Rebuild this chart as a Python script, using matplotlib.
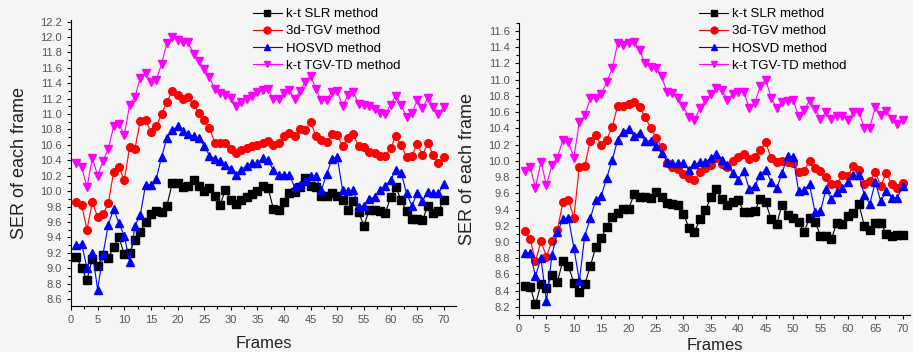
import matplotlib.pyplot as plt
from matplotlib.ticker import MultipleLocator

plt.rcParams['font.family'] = ['Liberation Sans', 'DejaVu Sans']

frames = list(range(1, 71))

# left panel
slr_a = [9.15, 9.0, 8.85, 9.12, 9.03, 9.17, 9.13, 9.28, 9.4, 9.18,
         9.2, 9.37, 9.47, 9.6, 9.7, 9.74, 9.73, 9.81, 10.1, 10.11,
         10.05, 10.07, 10.14, 10.07, 10.0, 10.04, 9.93, 9.82, 10.02, 9.88,
         9.83, 9.89, 9.92, 9.96, 10.0, 10.06, 10.04, 9.77, 9.76, 9.86,
         9.98, 9.99, 10.05, 10.17, 10.06, 10.05, 9.93, 9.93, 9.97, 9.94,
         9.89, 9.76, 9.87, 9.73, 9.55, 9.76, 9.76, 9.74, 9.71, 9.92,
         10.05, 9.88, 9.74, 9.64, 9.64, 9.62, 9.81, 9.71, 9.74, 9.89]
tgv3d_a = [9.86, 9.82, 9.5, 9.86, 9.66, 9.7, 9.84, 10.25, 10.31, 10.14,
           10.57, 10.55, 10.91, 10.92, 10.77, 10.84, 11.0, 11.16, 11.3, 11.25,
           11.19, 11.22, 11.13, 11.02, 10.92, 10.82, 10.63, 10.63, 10.63, 10.54,
           10.5, 10.53, 10.56, 10.58, 10.6, 10.63, 10.65, 10.6, 10.63, 10.71,
           10.76, 10.71, 10.81, 10.79, 10.9, 10.71, 10.66, 10.64, 10.74, 10.73,
           10.58, 10.69, 10.74, 10.58, 10.57, 10.51, 10.49, 10.46, 10.45, 10.56,
           10.71, 10.6, 10.44, 10.46, 10.61, 10.47, 10.62, 10.47, 10.36, 10.44]
hosvd_a = [9.3, 9.31, 9.0, 9.2, 8.72, 9.18, 9.56, 9.77, 9.58, 9.42,
           9.08, 9.55, 9.69, 10.08, 10.08, 10.16, 10.44, 10.69, 10.79, 10.84,
           10.78, 10.74, 10.71, 10.69, 10.59, 10.46, 10.42, 10.39, 10.34, 10.29,
           10.21, 10.28, 10.33, 10.36, 10.36, 10.43, 10.4, 10.27, 10.21, 10.21,
           10.21, 10.05, 10.08, 10.13, 10.19, 10.19, 10.01, 10.22, 10.42, 10.44,
           10.01, 10.0, 10.01, 9.79, 9.81, 9.9, 9.92, 10.02, 10.07, 10.14,
           10.28, 10.24, 9.97, 9.81, 9.97, 9.87, 9.99, 9.97, 9.97, 10.09]
tgvtd_a = [10.36, 10.31, 10.05, 10.43, 10.2, 10.39, 10.55, 10.84, 10.87, 10.73,
           11.12, 11.22, 11.47, 11.53, 11.41, 11.44, 11.65, 11.92, 12.0, 11.96,
           11.94, 11.93, 11.78, 11.69, 11.58, 11.48, 11.32, 11.27, 11.25, 11.21,
           11.11, 11.16, 11.19, 11.24, 11.28, 11.31, 11.33, 11.19, 11.2, 11.27,
           11.31, 11.19, 11.3, 11.42, 11.5, 11.32, 11.18, 11.18, 11.29, 11.3,
           11.1, 11.25, 11.29, 11.13, 11.12, 11.1, 11.06, 11.02, 11.0, 11.12,
           11.24, 11.12, 10.96, 11.01, 11.18, 11.08, 11.21, 11.09, 11.0, 11.09]

# right panel
slr_b = [8.46, 8.45, 8.23, 8.48, 8.43, 8.59, 8.51, 8.77, 8.7, 8.5,
         8.39, 8.48, 8.7, 8.94, 9.05, 9.19, 9.31, 9.36, 9.41, 9.41,
         9.59, 9.56, 9.56, 9.54, 9.61, 9.56, 9.48, 9.47, 9.45, 9.35,
         9.17, 9.12, 9.28, 9.39, 9.55, 9.65, 9.53, 9.45, 9.49, 9.52,
         9.37, 9.37, 9.38, 9.53, 9.49, 9.28, 9.22, 9.46, 9.33, 9.29,
         9.25, 9.12, 9.3, 9.25, 9.08, 9.08, 9.04, 9.24, 9.22, 9.32,
         9.36, 9.47, 9.2, 9.15, 9.23, 9.24, 9.1, 9.08, 9.09, 9.09]
tgv3d_b = [9.14, 9.04, 8.76, 9.01, 8.82, 9.01, 9.15, 9.49, 9.52, 9.3,
           9.93, 9.94, 10.25, 10.32, 10.19, 10.26, 10.42, 10.68, 10.67, 10.7,
           10.73, 10.66, 10.54, 10.41, 10.28, 10.17, 9.97, 9.93, 9.9, 9.84,
           9.79, 9.76, 9.86, 9.91, 9.95, 10.03, 9.96, 9.93, 10.0, 10.05,
           10.09, 10.02, 10.05, 10.13, 10.23, 10.03, 9.98, 10.0, 9.99, 9.97,
           9.86, 9.88, 10.0, 9.91, 9.88, 9.8, 9.71, 9.72, 9.82, 9.81,
           9.94, 9.89, 9.72, 9.75, 9.86, 9.69, 9.85, 9.71, 9.67, 9.73]
hosvd_b = [8.86, 8.87, 8.58, 8.8, 8.27, 8.84, 9.12, 9.28, 9.3, 8.93,
           8.52, 9.08, 9.29, 9.52, 9.57, 9.79, 10.01, 10.26, 10.36, 10.39,
           10.31, 10.34, 10.24, 10.25, 10.18, 10.1, 9.99, 9.97, 9.97, 9.97,
           9.89, 9.96, 9.98, 9.99, 10.03, 10.08, 10.01, 9.95, 9.85, 9.77,
           9.88, 9.65, 9.69, 9.83, 9.89, 9.74, 9.66, 9.85, 10.06, 10.05,
           9.63, 9.64, 9.71, 9.37, 9.38, 9.65, 9.53, 9.62, 9.67, 9.74,
           9.82, 9.83, 9.58, 9.47, 9.74, 9.5, 9.63, 9.54, 9.54, 9.69]
tgvtd_b = [9.87, 9.93, 9.67, 9.99, 9.7, 9.95, 10.04, 10.26, 10.23, 10.04,
           10.48, 10.56, 10.77, 10.78, 10.82, 10.97, 11.14, 11.45, 11.43, 11.45,
           11.47, 11.36, 11.2, 11.16, 11.15, 11.04, 10.85, 10.83, 10.77, 10.67,
           10.54, 10.5, 10.65, 10.75, 10.82, 10.9, 10.87, 10.75, 10.82, 10.85,
           10.85, 10.65, 10.71, 10.92, 11.0, 10.78, 10.65, 10.73, 10.74, 10.75,
           10.55, 10.63, 10.74, 10.64, 10.52, 10.6, 10.52, 10.55, 10.55, 10.5,
           10.6, 10.6, 10.41, 10.41, 10.66, 10.56, 10.62, 10.52, 10.45, 10.5]

labels = ['k-t SLR method', '3d-TGV method', 'HOSVD method', 'k-t TGV-TD method']
colors = ['black', 'red', 'blue', 'magenta']
markers = ['s', 'o', '^', 'v']

bg = '#f5f5f5'
fig = plt.figure(figsize=(9.13, 3.52), dpi=100, facecolor=bg)

ax1 = fig.add_axes([0.0778, 0.131, 0.4217, 0.812], facecolor=bg)
ax2 = fig.add_axes([0.5685, 0.105, 0.428, 0.83], facecolor=bg)


def draw(ax, series, xmax, ylim, legend_x, xpad):
    for vals, c, m, lab in zip(series, colors, markers, labels):
        ax.plot(frames, vals, color=c, marker=m, markersize=5.5, linewidth=0.8,
                label=lab)
    ax.set_xlim(0, xmax)
    ax.set_ylim(*ylim)
    ax.xaxis.set_major_locator(MultipleLocator(5))
    ax.xaxis.set_minor_locator(MultipleLocator(2.5))
    ax.yaxis.set_major_locator(MultipleLocator(0.2))
    ax.yaxis.set_minor_locator(MultipleLocator(0.1))
    ax.yaxis.set_major_formatter(plt.FormatStrFormatter('%.1f'))
    for s in ['top', 'right']:
        ax.spines[s].set_visible(False)
    ax.tick_params(which='both', direction='out', labelsize=8, labelcolor='#555555',
                   width=0.8)
    ax.tick_params(which='major', length=3)
    ax.tick_params(which='minor', length=2)
    ax.set_xlabel('Frames', fontsize=12, labelpad=xpad, color='#222222')
    ax.set_ylabel('SER of each frame', fontsize=13, labelpad=9, color='#222222')
    ax.legend(loc='upper left', bbox_to_anchor=(legend_x, 1.0),
              bbox_transform=fig.transFigure, frameon=False, fontsize=9.5,
              handlelength=2.2, handletextpad=0.3, labelspacing=0.38,
              borderpad=0.1, markerscale=0.9)


draw(ax1, [slr_a, tgv3d_a, hosvd_a, tgvtd_a], 72.3, (8.51, 12.22), 0.268, 8)
draw(ax2, [slr_b, tgv3d_b, hosvd_b, tgvtd_b], 71.3, (8.1, 11.7), 0.757, 3)

fig.savefig('out.png', dpi=100, facecolor=bg)
